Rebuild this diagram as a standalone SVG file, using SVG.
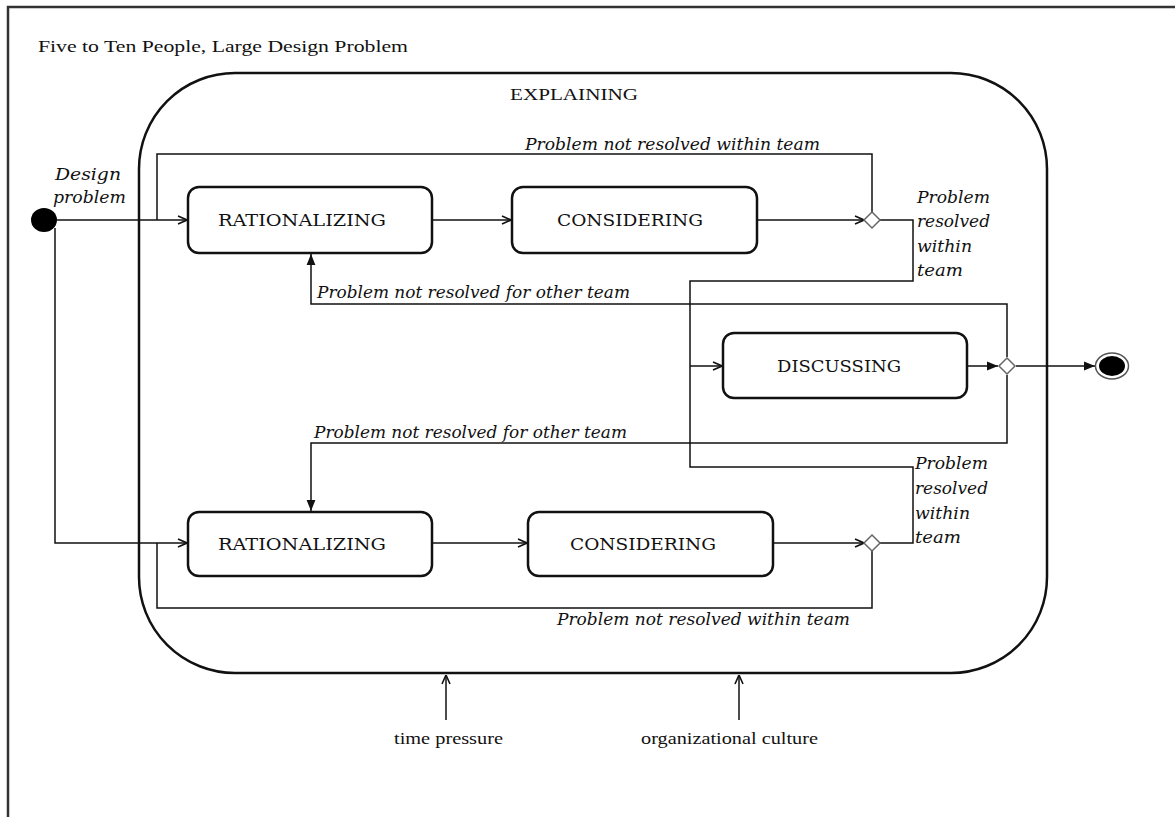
<svg xmlns="http://www.w3.org/2000/svg" width="1175" height="817" viewBox="0 0 1175 817">
  <style>
    .frame { fill: none; stroke: #333; stroke-width: 2.5; }
    .state { fill: #fff; stroke: #111; stroke-width: 2.5; }
    .super { fill: none; stroke: #111; stroke-width: 2.5; }
    .wire { fill: none; stroke: #111; stroke-width: 1.5; }
    .dia { fill: #fff; stroke: #666; stroke-width: 1.5; }
    .name { font-family: "DejaVu Serif", "Liberation Serif", serif; font-size: 16px; fill: #111; }
    .plain { font-family: "Liberation Serif", "DejaVu Serif", serif; font-size: 17px; fill: #111; }
    .guard { font-family: "DejaVu Serif", "Liberation Serif", serif; font-style: italic; font-size: 16px; fill: #111; }
  </style>
  <defs>
    <marker id="open" viewBox="0 0 10 10" refX="10" refY="5" markerWidth="10" markerHeight="10" markerUnits="userSpaceOnUse" orient="auto">
      <path d="M1,1 L10,5 L1,9" fill="none" stroke="#111" stroke-width="1.6"/>
    </marker>
    <marker id="solid" viewBox="0 0 10 10" refX="10" refY="5" markerWidth="11" markerHeight="11" markerUnits="userSpaceOnUse" orient="auto">
      <path d="M0,1 L10,5 L0,9 z" fill="#111"/>
    </marker>
  </defs>

  <rect width="1175" height="817" fill="#fff"/>
  <!-- page frame -->
  <rect class="frame" x="8" y="7" width="1200" height="900"/>
  <text class="plain" x="38" y="52" textLength="370" lengthAdjust="spacingAndGlyphs">Five to Ten People, Large Design Problem</text>

  <!-- composite state -->
  <g id="explaining">
    <rect class="super" x="139" y="73" width="908" height="600" rx="96" ry="96"/>
    <text class="plain" x="574" y="100" text-anchor="middle" textLength="128" lengthAdjust="spacingAndGlyphs">EXPLAINING</text>
  </g>

  <!-- connectors -->
  <g id="connectors">
    <!-- start to first team -->
    <line class="wire" x1="57" y1="220" x2="187" y2="220" marker-end="url(#open)"/>
    <!-- start to second team -->
    <polyline class="wire" points="55,228 55,543 187,543" marker-end="url(#open)"/>
    <!-- upper row -->
    <line class="wire" x1="432" y1="220" x2="511" y2="220" marker-end="url(#open)"/>
    <line class="wire" x1="757" y1="220" x2="864" y2="220" marker-end="url(#open)"/>
    <polyline class="wire" points="872,212 872,154 157,154 157,220"/>
    <!-- lower row -->
    <line class="wire" x1="432" y1="543" x2="527" y2="543" marker-end="url(#open)"/>
    <line class="wire" x1="773" y1="543" x2="864" y2="543" marker-end="url(#open)"/>
    <polyline class="wire" points="872,551 872,608 157,608 157,543"/>
    <!-- resolved within team, into discussion -->
    <polyline class="wire" points="880,220 913,220 913,281 690,281 690,467 913,467 913,543 880,543"/>
    <line class="wire" x1="690" y1="366" x2="722" y2="366" marker-end="url(#open)"/>
    <!-- discussion outcome -->
    <line class="wire" x1="967" y1="366" x2="998" y2="366" marker-end="url(#solid)"/>
    <line class="wire" x1="1016" y1="366" x2="1095" y2="366" marker-end="url(#solid)"/>
    <polyline class="wire" points="1007,357 1007,304 311,304 311,254" marker-end="url(#solid)"/>
    <polyline class="wire" points="1007,375 1007,443 311,443 311,511" marker-end="url(#solid)"/>
    <!-- external influences -->
    <line class="wire" x1="446" y1="720" x2="446" y2="675" marker-end="url(#open)"/>
    <line class="wire" x1="739" y1="720" x2="739" y2="675" marker-end="url(#open)"/>
  </g>

  <!-- pseudo states -->
  <g id="start">
    <ellipse cx="44" cy="220" rx="13" ry="12" fill="#000"/>
  </g>
  <g id="end">
    <ellipse cx="1112" cy="366" rx="16.5" ry="13" fill="#fff" stroke="#555" stroke-width="1.5"/>
    <ellipse cx="1112" cy="366" rx="13" ry="10" fill="#000"/>
  </g>
  <g id="choice1"><polygon class="dia" points="872,212 880,220 872,228 864,220"/></g>
  <g id="choice2"><polygon class="dia" points="872,535 880,543 872,551 864,543"/></g>
  <g id="choice3"><polygon class="dia" points="1007,358 1015,366 1007,374 999,366"/></g>

  <!-- states -->
  <g id="rationalizing1">
    <rect class="state" x="188" y="187" width="244" height="66" rx="11"/>
    <text class="name" x="302" y="226" text-anchor="middle" textLength="168" lengthAdjust="spacingAndGlyphs">RATIONALIZING</text>
  </g>
  <g id="considering1">
    <rect class="state" x="512" y="187" width="245" height="66" rx="11"/>
    <text class="name" x="630" y="226" text-anchor="middle" textLength="146" lengthAdjust="spacingAndGlyphs">CONSIDERING</text>
  </g>
  <g id="discussing">
    <rect class="state" x="723" y="333" width="244" height="65" rx="11"/>
    <text class="name" x="839" y="372" text-anchor="middle" textLength="124" lengthAdjust="spacingAndGlyphs">DISCUSSING</text>
  </g>
  <g id="rationalizing2">
    <rect class="state" x="188" y="512" width="244" height="64" rx="11"/>
    <text class="name" x="302" y="550" text-anchor="middle" textLength="168" lengthAdjust="spacingAndGlyphs">RATIONALIZING</text>
  </g>
  <g id="considering2">
    <rect class="state" x="528" y="512" width="245" height="64" rx="11"/>
    <text class="name" x="643" y="550" text-anchor="middle" textLength="146" lengthAdjust="spacingAndGlyphs">CONSIDERING</text>
  </g>

  <!-- guard labels -->
  <g id="labels">
    <text class="guard" x="55" y="180" textLength="66" lengthAdjust="spacingAndGlyphs">Design</text>
    <text class="guard" x="53" y="203" textLength="73" lengthAdjust="spacingAndGlyphs">problem</text>
    <text class="guard" x="525" y="150" textLength="295" lengthAdjust="spacingAndGlyphs">Problem not resolved within team</text>
    <text class="guard" x="917" y="203" textLength="73" lengthAdjust="spacingAndGlyphs">Problem</text>
    <text class="guard" x="917" y="227" textLength="73" lengthAdjust="spacingAndGlyphs">resolved</text>
    <text class="guard" x="917" y="252" textLength="55" lengthAdjust="spacingAndGlyphs">within</text>
    <text class="guard" x="917" y="276" textLength="46" lengthAdjust="spacingAndGlyphs">team</text>
    <text class="guard" x="317" y="298" textLength="313" lengthAdjust="spacingAndGlyphs">Problem not resolved for other team</text>
    <text class="guard" x="314" y="438" textLength="313" lengthAdjust="spacingAndGlyphs">Problem not resolved for other team</text>
    <text class="guard" x="915" y="469" textLength="73" lengthAdjust="spacingAndGlyphs">Problem</text>
    <text class="guard" x="915" y="494" textLength="73" lengthAdjust="spacingAndGlyphs">resolved</text>
    <text class="guard" x="915" y="519" textLength="55" lengthAdjust="spacingAndGlyphs">within</text>
    <text class="guard" x="915" y="543" textLength="46" lengthAdjust="spacingAndGlyphs">team</text>
    <text class="guard" x="557" y="625" textLength="293" lengthAdjust="spacingAndGlyphs">Problem not resolved within team</text>
  </g>

  <g id="influences">
    <text class="plain" x="394" y="744" textLength="109" lengthAdjust="spacingAndGlyphs">time pressure</text>
    <text class="plain" x="641" y="744" textLength="177" lengthAdjust="spacingAndGlyphs">organizational culture</text>
  </g>
</svg>
